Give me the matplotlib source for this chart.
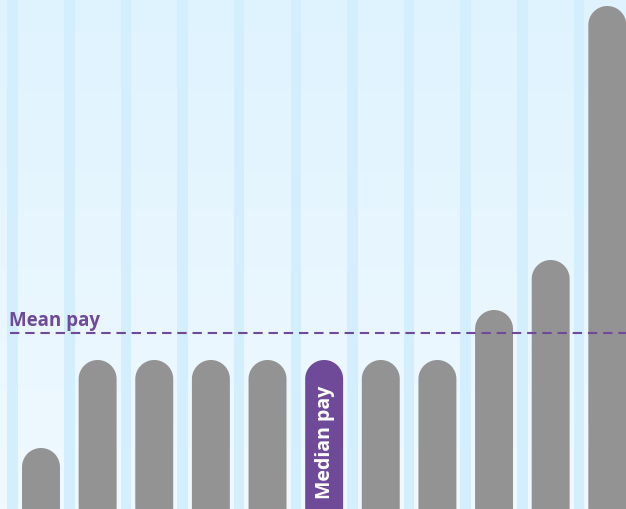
import numpy as np
import matplotlib.pyplot as plt
from matplotlib.patches import Polygon

# pay values (arbitrary units), one bar per employee, sorted
employees = list(range(11))
pay = [61, 149, 149, 149, 149, 149, 149, 149, 199, 249, 503]
median_idx = 5
mean_pay = 176

grey = '#939393'
purple = '#6e4a98'

fig = plt.figure(figsize=(6.26, 5.09), dpi=100)
ax = fig.add_axes([0, 0, 1, 1])
ax.set_xlim(-0.724, 10.33)
ax.set_ylim(0, 509)
ax.axis('off')

# gradient background
grad = np.linspace(0, 1, 256).reshape(-1, 1)
top = np.array([0xdf, 0xf3, 0xfe]) / 255
bot = np.array([0xf0, 0xf9, 0xff]) / 255
img = top + (bot - top) * grad[..., None]
ax.imshow(img, extent=[-0.724, 10.33, 0, 509], aspect='auto', zorder=0, origin='upper')

# vertical stripes between bars
for k in employees:
    ax.axvspan(k - 0.5 - 0.093, k - 0.5 + 0.093, color='#d3effd', lw=0, zorder=1)

# bars with a rounded top: one polygon each (straight sides + half ellipse)
width = 0.67
r = 19  # cap radius in y units
t = np.linspace(0, np.pi, 60)
for i, p in enumerate(pay):
    xs = np.concatenate([[i + width / 2], i + width / 2 * np.cos(t), [i - width / 2]])
    ys = np.concatenate([[0], p - r + r * np.sin(t), [0]])
    col = purple if i == median_idx else grey
    ax.add_patch(Polygon(np.column_stack([xs, ys]), closed=True, facecolor=col,
                         edgecolor='none', zorder=2))

ax.text(median_idx + 0.01, 67, 'Median pay', rotation=90, ha='center', va='center',
        color='white', fontsize=14, fontweight='bold', family='Open Sans', zorder=3)

# mean line
ax.plot([-0.547, 10.33], [mean_pay, mean_pay], color=purple, lw=1.5,
        dashes=(4.5, 2.8), zorder=4)
ax.text(-0.56, mean_pay + 7, 'Mean pay', ha='left', va='baseline', color=purple,
        fontsize=13.5, fontweight='bold', family='Open Sans', zorder=4)

fig.savefig('out.png', dpi=100)
